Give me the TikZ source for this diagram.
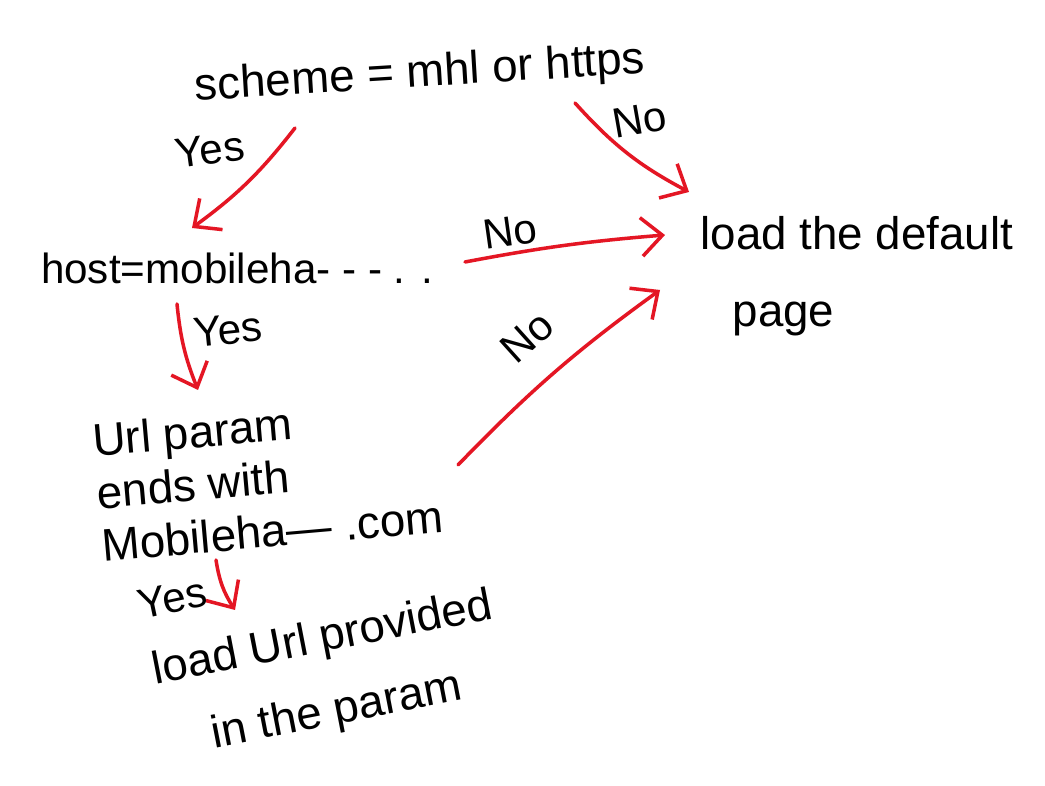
\documentclass[tikz,border=0pt]{standalone}
\usepackage{fontspec}
\setmainfont{Liberation Sans}
\usepackage{xcolor}
\usetikzlibrary{
  arrows.meta,
  calc
}
\definecolor{penred}{RGB}{228,22,36}

\begin{document}
\begin{tikzpicture}[
  txt/.style={inner sep=1pt, font=\fontsize{13}{15}\selectfont},
  lbl/.style={inner sep=1pt, font=\fontsize{12}{15}\selectfont},
  arr/.style={penred, line width=1pt, line cap=round,
    -{Straight Barb[length=6pt,width=11pt,line width=1pt]}}
]
  % Page
  \fill[white] (0,0) rectangle (10.45,7.86);
  \useasboundingbox (0,0) rectangle (10.45,7.86);

  % Steps
  \node[txt, rotate=3.5] (scheme) at (4.20,7.11) {scheme = mhl or https};
  \node[txt, font=\fontsize{12}{14}\selectfont] (host) at (2.37,5.18)
    {host=mobileha- - - . .};
  \node[txt, align=left, rotate=5] (url) at (2.68,3.08)
    {Url param\\ends with\\Mobileha— .com};
  \node[txt, align=center, rotate=11] (loadurl) at (3.30,1.10)
    {load Url provided\\[6pt]in the param};
  \node[txt, align=left] (default) at (8.57,5.10)
    {load the default\\[7pt]\hspace{0.7em}page};

  % Branches
  \draw[arr] ($(scheme.center)+(-1.25,-0.53)$) to[bend left=8]
    ($(host.center)+(-0.45,0.40)$);
  \draw[arr] ($(scheme.center)+(1.55,-0.28)$) to[bend right=10]
    ($(default.center)+(-1.68,0.84)$);
  \draw[arr] ($(host.center)+(2.28,0.06)$) to[bend left=3]
    ($(default.center)+(-1.92,0.41)$);
  \draw[arr] ($(host.center)+(-0.60,-0.36)$) to[bend right=8]
    ($(url.center)+(-0.70,0.88)$);
  \draw[arr] ($(url.center)+(1.90,0.13)$) to[bend left=5]
    ($(default.center)+(-1.97,-0.14)$);
  \draw[arr] ($(url.center)+(-0.52,-0.82)$) to[bend right=12]
    ($(loadurl.center)+(-0.95,0.66)$);

  % Answers
  \node[lbl, rotate=8] (yesA) at (2.10,6.36) {Yes};
  \node[lbl, rotate=10] (noA) at (6.40,6.66) {No};
  \node[lbl, rotate=8] (noB) at (5.10,5.54) {No};
  \node[lbl, rotate=6] (yesB) at (2.28,4.56) {Yes};
  \node[lbl, rotate=42] (noC) at (5.27,4.49) {No};
  \node[lbl, rotate=12] (yesC) at (1.72,1.88) {Yes};
\end{tikzpicture}
\end{document}
